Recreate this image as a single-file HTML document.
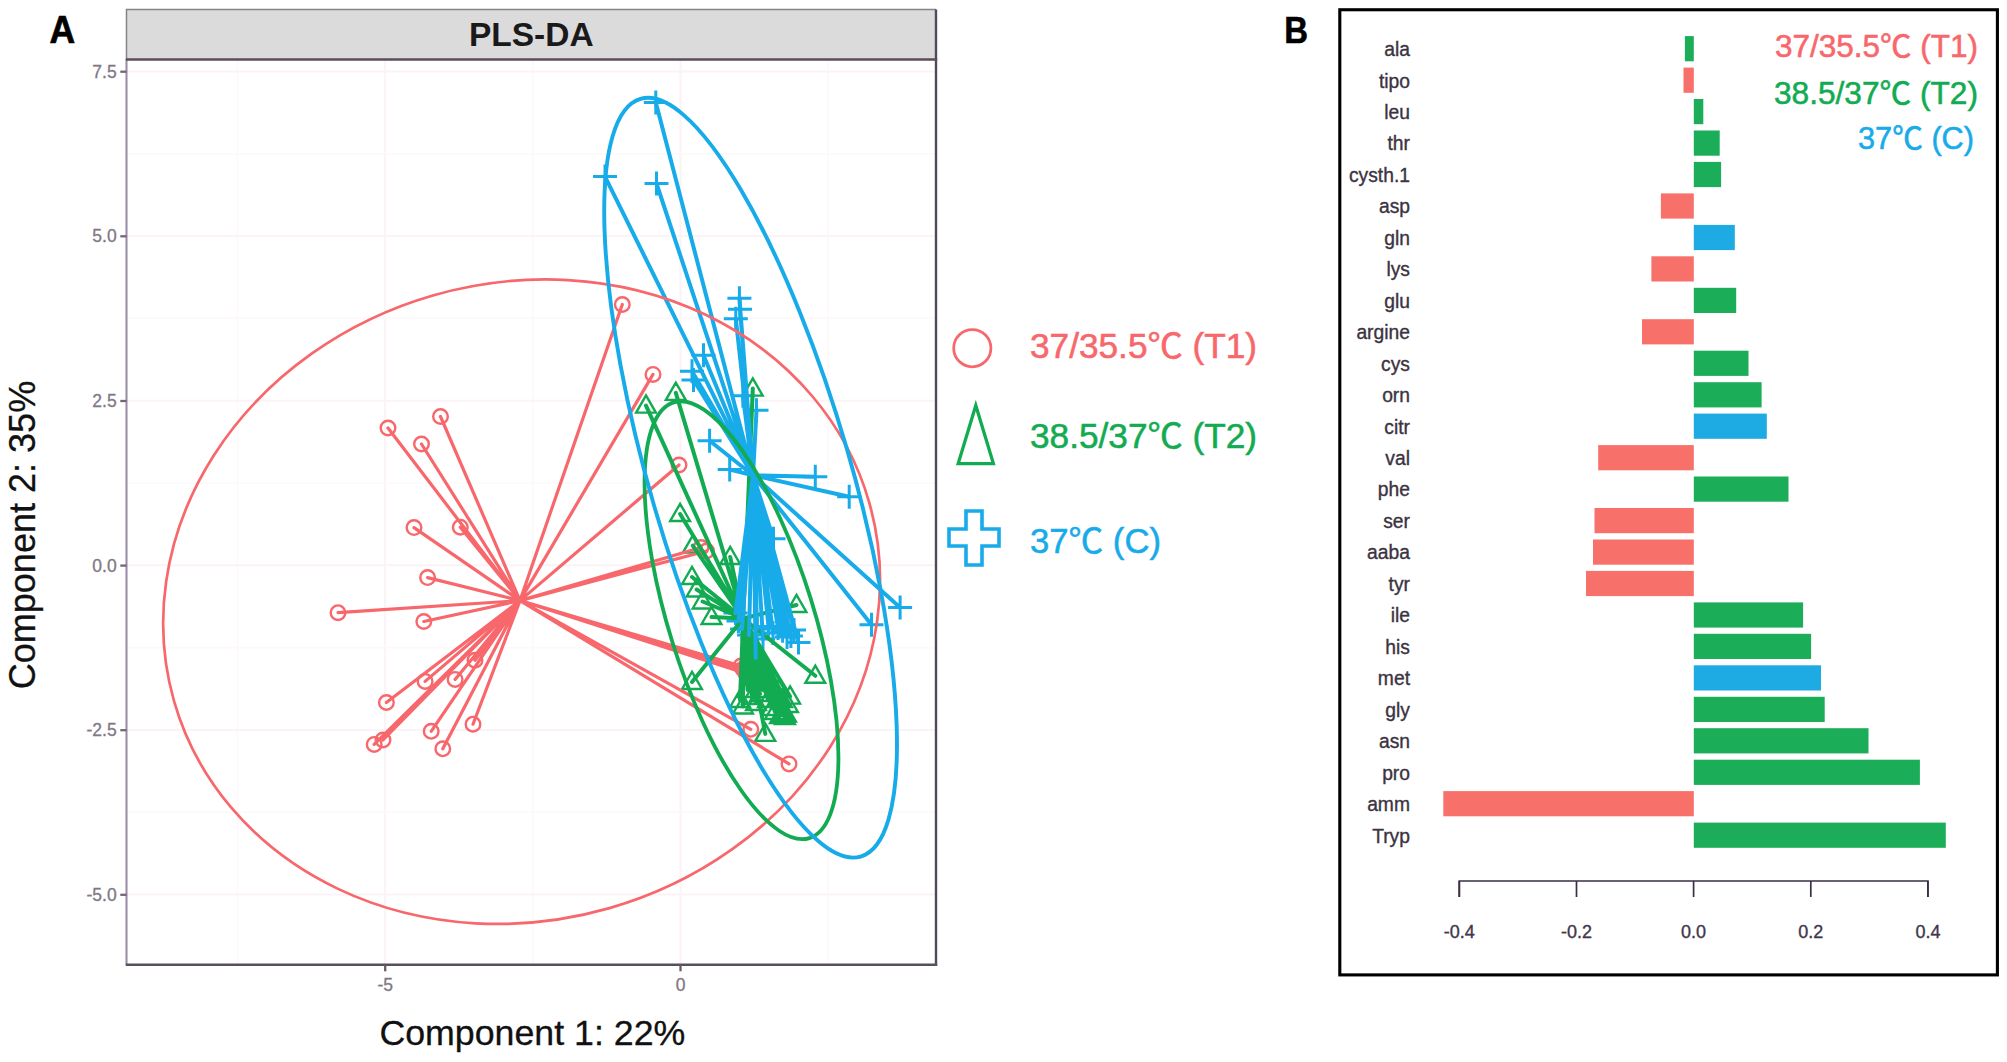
<!DOCTYPE html>
<html lang="en"><head><meta charset="utf-8"><title>PLS-DA figure</title>
<style>
html,body{margin:0;padding:0;background:#fff;}
body{width:2007px;height:1062px;overflow:hidden;}
svg{display:block;font-family:"Liberation Sans","Noto Sans CJK SC",sans-serif;}
</style></head><body>
<svg width="2007" height="1062" viewBox="0 0 2007 1062">
<defs><clipPath id="clipA"><rect x="126.5" y="59.5" width="809.5" height="905.3"/></clipPath></defs>
<rect width="2007" height="1062" fill="#fff"/>
<rect x="126.5" y="9.5" width="809.5" height="50.0" fill="#dcdbdc"/>
<path d="M126.5 59.5V9.5H936" fill="none" stroke="#85828a" stroke-width="1.5"/>
<text x="531.25" y="46" text-anchor="middle" font-size="33.5" font-weight="bold" fill="#1a1a1a">PLS-DA</text>
<rect x="126.5" y="59.5" width="809.5" height="905.3" fill="#fff"/>
<line x1="237.6" x2="237.6" y1="59.5" y2="964.8" stroke="#fdf8fa" stroke-width="1.6"/>
<line x1="532.9" x2="532.9" y1="59.5" y2="964.8" stroke="#fdf8fa" stroke-width="1.6"/>
<line x1="828.1" x2="828.1" y1="59.5" y2="964.8" stroke="#fdf8fa" stroke-width="1.6"/>
<line x1="385.2" x2="385.2" y1="59.5" y2="964.8" stroke="#fcf3f6" stroke-width="2"/>
<line x1="680.5" x2="680.5" y1="59.5" y2="964.8" stroke="#fcf3f6" stroke-width="2"/>
<line y1="153.7" y2="153.7" x1="126.5" x2="936" stroke="#fdf8fa" stroke-width="1.6"/>
<line y1="318.4" y2="318.4" x1="126.5" x2="936" stroke="#fdf8fa" stroke-width="1.6"/>
<line y1="483.0" y2="483.0" x1="126.5" x2="936" stroke="#fdf8fa" stroke-width="1.6"/>
<line y1="647.6" y2="647.6" x1="126.5" x2="936" stroke="#fdf8fa" stroke-width="1.6"/>
<line y1="812.2" y2="812.2" x1="126.5" x2="936" stroke="#fdf8fa" stroke-width="1.6"/>
<line y1="71.4" y2="71.4" x1="126.5" x2="936" stroke="#fcf3f6" stroke-width="2"/>
<line y1="236.0" y2="236.0" x1="126.5" x2="936" stroke="#fcf3f6" stroke-width="2"/>
<line y1="400.7" y2="400.7" x1="126.5" x2="936" stroke="#fcf3f6" stroke-width="2"/>
<line y1="565.3" y2="565.3" x1="126.5" x2="936" stroke="#fcf3f6" stroke-width="2"/>
<line y1="729.9" y2="729.9" x1="126.5" x2="936" stroke="#fcf3f6" stroke-width="2"/>
<line y1="894.5" y2="894.5" x1="126.5" x2="936" stroke="#fcf3f6" stroke-width="2"/>
<g clip-path="url(#clipA)">
<circle cx="338" cy="612.7" r="7.3" fill="none" stroke="#f7676b" stroke-width="2.4"/>
<circle cx="388" cy="428" r="7.3" fill="none" stroke="#f7676b" stroke-width="2.4"/>
<circle cx="421.5" cy="444" r="7.3" fill="none" stroke="#f7676b" stroke-width="2.4"/>
<circle cx="440.5" cy="416.5" r="7.3" fill="none" stroke="#f7676b" stroke-width="2.4"/>
<circle cx="414" cy="527.6" r="7.3" fill="none" stroke="#f7676b" stroke-width="2.4"/>
<circle cx="460.3" cy="527.2" r="7.3" fill="none" stroke="#f7676b" stroke-width="2.4"/>
<circle cx="427.6" cy="577.6" r="7.3" fill="none" stroke="#f7676b" stroke-width="2.4"/>
<circle cx="423.8" cy="621.5" r="7.3" fill="none" stroke="#f7676b" stroke-width="2.4"/>
<circle cx="386.4" cy="702.5" r="7.3" fill="none" stroke="#f7676b" stroke-width="2.4"/>
<circle cx="425.1" cy="681.4" r="7.3" fill="none" stroke="#f7676b" stroke-width="2.4"/>
<circle cx="455.1" cy="679.4" r="7.3" fill="none" stroke="#f7676b" stroke-width="2.4"/>
<circle cx="475" cy="660.3" r="7.3" fill="none" stroke="#f7676b" stroke-width="2.4"/>
<circle cx="374.2" cy="744.4" r="7.3" fill="none" stroke="#f7676b" stroke-width="2.4"/>
<circle cx="383" cy="740" r="7.3" fill="none" stroke="#f7676b" stroke-width="2.4"/>
<circle cx="431.2" cy="731.3" r="7.3" fill="none" stroke="#f7676b" stroke-width="2.4"/>
<circle cx="442.8" cy="748.8" r="7.3" fill="none" stroke="#f7676b" stroke-width="2.4"/>
<circle cx="473" cy="724.2" r="7.3" fill="none" stroke="#f7676b" stroke-width="2.4"/>
<circle cx="622.3" cy="304.5" r="7.3" fill="none" stroke="#f7676b" stroke-width="2.4"/>
<circle cx="653" cy="374.4" r="7.3" fill="none" stroke="#f7676b" stroke-width="2.4"/>
<circle cx="679" cy="465" r="7.3" fill="none" stroke="#f7676b" stroke-width="2.4"/>
<circle cx="706.5" cy="551" r="7.3" fill="none" stroke="#f7676b" stroke-width="2.4"/>
<circle cx="701" cy="547.5" r="7.3" fill="none" stroke="#f7676b" stroke-width="2.4"/>
<circle cx="750.8" cy="729.3" r="7.3" fill="none" stroke="#f7676b" stroke-width="2.4"/>
<circle cx="789" cy="763.9" r="7.3" fill="none" stroke="#f7676b" stroke-width="2.4"/>
<circle cx="743" cy="669" r="7.3" fill="none" stroke="#f7676b" stroke-width="2.4"/>
<circle cx="746" cy="673.5" r="7.3" fill="none" stroke="#f7676b" stroke-width="2.4"/>
<circle cx="741" cy="666" r="7.3" fill="none" stroke="#f7676b" stroke-width="2.4"/>
<path d="M675.8 382.7L685.6999999999999 399.9L665.9 399.9ZM646 395.40000000000003L655.9 412.6L636.1 412.6ZM752.8 378.40000000000003L762.6999999999999 395.6L742.9 395.6ZM680.1 503.8L690.0 521.0L670.2 521.0ZM692.8 535.4L702.6999999999999 552.6L682.9 552.6ZM692 566.8L701.9 584.0L682.1 584.0ZM696.6 579.3L706.5 596.5L686.7 596.5ZM702.6 591.3L712.5 608.5L692.7 608.5ZM711.5 606.8L721.4 624.0L701.6 624.0ZM730.2 546.8L740.1 564.0L720.3000000000001 564.0ZM796.5 594.8L806.4 612.0L786.6 612.0ZM815.3 665.5999999999999L825.1999999999999 682.8L805.4 682.8ZM692 671.8L701.9 689.0L682.1 689.0ZM740 689.8L749.9 707.0L730.1 707.0ZM743 696.3L752.9 713.5L733.1 713.5ZM747.6 679.8L757.5 697.0L737.7 697.0ZM752 686.8L761.9 704.0L742.1 704.0ZM756 692.8L765.9 710.0L746.1 710.0ZM760 683.8L769.9 701.0L750.1 701.0ZM763.2 679.8L773.1 697.0L753.3000000000001 697.0ZM765.3 723.6999999999999L775.1999999999999 740.9L755.4 740.9ZM768 689.8L777.9 707.0L758.1 707.0ZM772 697.8L781.9 715.0L762.1 715.0ZM775 701.8L784.9 719.0L765.1 719.0ZM778.7 679.8L788.6 697.0L768.8000000000001 697.0ZM780 705.8L789.9 723.0L770.1 723.0ZM782 704.8L791.9 722.0L772.1 722.0ZM783.9 705.0999999999999L793.8 722.3L774.0 722.3ZM786 704.3L795.9 721.5L776.1 721.5ZM785 706.8L794.9 724.0L775.1 724.0ZM788 694.8L797.9 712.0L778.1 712.0ZM790.1 686.4L800.0 703.6L780.2 703.6ZM782 689.8L791.9 707.0L772.1 707.0Z" fill="none" stroke="#13ab52" stroke-width="2.4" stroke-linejoin="miter"/>
<path d="M643.8 102.4H667.8M655.8 90.4V114.4M593 176.6H617M605 164.6V188.6M644.5 183.5H668.5M656.5 171.5V195.5M727.4 298.2H751.4M739.4 286.2V310.2M728 309.3H752M740 297.3V321.3M723.8 318.7H747.8M735.8 306.7V330.7M691.5 355.2H715.5M703.5 343.2V367.2M680 371.3H704M692 359.3V383.3M681.5 380H705.5M693.5 368V392M730.9 395.7H754.9M742.9 383.7V407.7M744.5 410.3H768.5M756.5 398.3V422.3M697.6 440.8H721.6M709.6 428.8V452.8M717.7 469.6H741.7M729.7 457.6V481.6M803.3 476.8H827.3M815.3 464.8V488.8M837.2 496.8H861.2M849.2 484.8V508.8M761.5 538.8H785.5M773.5 526.8V550.8M888.1 607.4H912.1M900.1 595.4V619.4M859.5 624.7H883.5M871.5 612.7V636.7M743.7 657.8H767.7M755.7 645.8V669.8M723.5 613H747.5M735.5 601V625M726.5 621H750.5M738.5 609V633M730 629H754M742 617V641M737 635H761M749 623V647M745 629H769M757 617V641M751 639H775M763 627V651M756.5 626.5H780.5M768.5 614.5V638.5M761 633H785M773 621V645M766 628H790M778 616V640M770.6 630.7H794.6M782.6 618.7V642.7M775 637H799M787 625V649M778.9 636H802.9M790.9 624V648M782 630H806M794 618V642M786.5 642.5H810.5M798.5 630.5V654.5" stroke="#17abea" stroke-width="3.0" fill="none"/>
<path d="M520 600.6L338 612.7M520 600.6L388 428M520 600.6L421.5 444M520 600.6L440.5 416.5M520 600.6L414 527.6M520 600.6L460.3 527.2M520 600.6L427.6 577.6M520 600.6L423.8 621.5M520 600.6L386.4 702.5M520 600.6L425.1 681.4M520 600.6L455.1 679.4M520 600.6L475 660.3M520 600.6L374.2 744.4M520 600.6L383 740M520 600.6L431.2 731.3M520 600.6L442.8 748.8M520 600.6L473 724.2M520 600.6L622.3 304.5M520 600.6L653 374.4M520 600.6L679 465M520 600.6L706.5 551M520 600.6L701 547.5M520 600.6L750.8 729.3M520 600.6L789 763.9M520 600.6L743 669M520 600.6L746 673.5M520 600.6L741 666" stroke="#f7676b" stroke-width="3.2" fill="none" stroke-linecap="round"/>
<path d="M743.2 618.5L675.8 392.9M743.2 618.5L646 405.6M743.2 618.5L752.8 388.6M743.2 618.5L680.1 514M743.2 618.5L692.8 545.6M743.2 618.5L692 577M743.2 618.5L696.6 589.5M743.2 618.5L702.6 601.5M743.2 618.5L711.5 617M743.2 618.5L730.2 557M743.2 618.5L796.5 605M743.2 618.5L815.3 675.8M743.2 618.5L692 682M743.2 618.5L740 700M743.2 618.5L743 706.5M743.2 618.5L747.6 690M743.2 618.5L752 697M743.2 618.5L756 703M743.2 618.5L760 694M743.2 618.5L763.2 690M743.2 618.5L765.3 733.9M743.2 618.5L768 700M743.2 618.5L772 708M743.2 618.5L775 712M743.2 618.5L778.7 690M743.2 618.5L780 716M743.2 618.5L782 715M743.2 618.5L783.9 715.3M743.2 618.5L786 714.5M743.2 618.5L785 717M743.2 618.5L788 705M743.2 618.5L790.1 696.6M743.2 618.5L782 700" stroke="#13ab52" stroke-width="4.0" fill="none" stroke-linecap="round"/>
<path d="M753 475.2L655.8 102.4M753 475.2L605 176.6M753 475.2L656.5 183.5M753 475.2L739.4 298.2M753 475.2L740 309.3M753 475.2L735.8 318.7M753 475.2L703.5 355.2M753 475.2L692 371.3M753 475.2L693.5 380M753 475.2L742.9 395.7M753 475.2L756.5 410.3M753 475.2L709.6 440.8M753 475.2L729.7 469.6M753 475.2L815.3 476.8M753 475.2L849.2 496.8M753 475.2L773.5 538.8M753 475.2L900.1 607.4M753 475.2L871.5 624.7M753 475.2L755.7 657.8M753 475.2L735.5 613M753 475.2L738.5 621M753 475.2L742 629M753 475.2L749 635M753 475.2L757 629M753 475.2L763 639M753 475.2L768.5 626.5M753 475.2L773 633M753 475.2L778 628M753 475.2L782.6 630.7M753 475.2L787 637M753 475.2L790.9 636M753 475.2L794 630M753 475.2L798.5 642.5" stroke="#17abea" stroke-width="4.0" fill="none" stroke-linecap="round"/>
<ellipse cx="521.6" cy="601.7" rx="361.5" ry="318.8" transform="rotate(-16.0 521.6 601.7)" fill="none" stroke="#f7676b" stroke-width="2.7"/>
<ellipse cx="741.5" cy="620.2" rx="228.2" ry="72.5" transform="rotate(72.7 741.5 620.2)" fill="none" stroke="#13ab52" stroke-width="3.8"/>
<ellipse cx="750.6" cy="477.7" rx="394.5" ry="100.5" transform="rotate(73.8 750.6 477.7)" fill="none" stroke="#17abea" stroke-width="3.9"/>
</g>
<line x1="126.5" x2="126.5" y1="59.5" y2="964.8" stroke="#9a8fa6" stroke-width="2.1"/>
<line x1="936" x2="936" y1="9.5" y2="965.8" stroke="#524a5a" stroke-width="2.4"/>
<line x1="125.8" x2="937.2" y1="59.5" y2="59.5" stroke="#5c4b58" stroke-width="2.6"/>
<line x1="125.8" x2="937.2" y1="964.8" y2="964.8" stroke="#57505c" stroke-width="2.6"/>
<line x1="120.3" x2="126.5" y1="71.7" y2="71.7" stroke="#75647a" stroke-width="2.3"/>
<text x="116.7" y="77.8" text-anchor="end" font-size="17.5" fill="#807885" stroke="#807885" stroke-width="0.3">7.5</text>
<line x1="120.3" x2="126.5" y1="236.3" y2="236.3" stroke="#75647a" stroke-width="2.3"/>
<text x="116.7" y="242.4" text-anchor="end" font-size="17.5" fill="#807885" stroke="#807885" stroke-width="0.3">5.0</text>
<line x1="120.3" x2="126.5" y1="401.0" y2="401.0" stroke="#75647a" stroke-width="2.3"/>
<text x="116.7" y="407.1" text-anchor="end" font-size="17.5" fill="#807885" stroke="#807885" stroke-width="0.3">2.5</text>
<line x1="120.3" x2="126.5" y1="565.6" y2="565.6" stroke="#75647a" stroke-width="2.3"/>
<text x="116.7" y="571.7" text-anchor="end" font-size="17.5" fill="#807885" stroke="#807885" stroke-width="0.3">0.0</text>
<line x1="120.3" x2="126.5" y1="730.2" y2="730.2" stroke="#75647a" stroke-width="2.3"/>
<text x="116.7" y="736.3" text-anchor="end" font-size="17.5" fill="#807885" stroke="#807885" stroke-width="0.3">-2.5</text>
<line x1="120.3" x2="126.5" y1="894.8" y2="894.8" stroke="#75647a" stroke-width="2.3"/>
<text x="116.7" y="900.9" text-anchor="end" font-size="17.5" fill="#807885" stroke="#807885" stroke-width="0.3">-5.0</text>
<line y1="964.8" y2="971.3" x1="385.2" x2="385.2" stroke="#6b5866" stroke-width="2.3"/>
<text x="385.2" y="991" text-anchor="middle" font-size="17.5" fill="#807885" stroke="#807885" stroke-width="0.3">-5</text>
<line y1="964.8" y2="971.3" x1="680.5" x2="680.5" stroke="#6b5866" stroke-width="2.3"/>
<text x="680.5" y="991" text-anchor="middle" font-size="17.5" fill="#807885" stroke="#807885" stroke-width="0.3">0</text>
<text x="379.4" y="1044.8" font-size="35.6" fill="#111" stroke="#111" stroke-width="0.3" textLength="306" lengthAdjust="spacingAndGlyphs">Component 1: 22%</text>
<text transform="translate(35.4 689.3) rotate(-90)" font-size="37.8" fill="#111" stroke="#111" stroke-width="0.3" textLength="308.5" lengthAdjust="spacingAndGlyphs">Component 2: 35%</text>
<text x="49.6" y="42.9" font-size="38.2" font-weight="bold" fill="#000" stroke="#000" stroke-width="0.7" textLength="25.6" lengthAdjust="spacingAndGlyphs">A</text>
<circle cx="972.3" cy="348.2" r="18.6" fill="none" stroke="#f7676b" stroke-width="2.8"/>
<path d="M975.8 405.5L993.4 463.6L958.2 463.6Z" fill="none" stroke="#13ab52" stroke-width="3.3"/>
<path d="M966 511H982V529H999V546H982V565H966V546H949V529H966Z" fill="none" stroke="#17abea" stroke-width="3.6"/>
<text x="1030" y="358" font-size="34.2" fill="#f7676b" textLength="227" lengthAdjust="spacingAndGlyphs" text-anchor="start" stroke="#f7676b" stroke-width="0.55">37/35.5℃ (T1)</text>
<text x="1030" y="448" font-size="34.2" fill="#13ab52" textLength="227" lengthAdjust="spacingAndGlyphs" text-anchor="start" stroke="#13ab52" stroke-width="0.55">38.5/37℃ (T2)</text>
<text x="1030" y="553" font-size="34.2" fill="#17abea" textLength="131" lengthAdjust="spacingAndGlyphs" text-anchor="start" stroke="#17abea" stroke-width="0.55">37℃ (C)</text>
<rect x="1339.8" y="9.75" width="657.6" height="965.15" fill="#fff" stroke="#000" stroke-width="3.1"/>
<text x="1284.2" y="42.6" font-size="37.4" font-weight="bold" fill="#000" stroke="#000" stroke-width="0.6" textLength="23.8" lengthAdjust="spacingAndGlyphs">B</text>
<rect x="1684.9" y="36.1" width="8.9" height="25.2" fill="#1bad57"/>
<text x="1410" y="56.0" text-anchor="end" font-size="19.3" fill="#3b3341" stroke="#3b3341" stroke-width="0.35">ala</text>
<rect x="1683.5" y="67.6" width="10.3" height="25.2" fill="#f8706a"/>
<text x="1410" y="87.5" text-anchor="end" font-size="19.3" fill="#3b3341" stroke="#3b3341" stroke-width="0.35">tipo</text>
<rect x="1693.8" y="99.0" width="9.5" height="25.2" fill="#1bad57"/>
<text x="1410" y="118.9" text-anchor="end" font-size="19.3" fill="#3b3341" stroke="#3b3341" stroke-width="0.35">leu</text>
<rect x="1693.8" y="130.5" width="25.9" height="25.2" fill="#1bad57"/>
<text x="1410" y="150.4" text-anchor="end" font-size="19.3" fill="#3b3341" stroke="#3b3341" stroke-width="0.35">thr</text>
<rect x="1693.8" y="161.9" width="27.3" height="25.2" fill="#1bad57"/>
<text x="1410" y="181.8" text-anchor="end" font-size="19.3" fill="#3b3341" stroke="#3b3341" stroke-width="0.35">cysth.1</text>
<rect x="1660.9" y="193.4" width="32.9" height="25.2" fill="#f8706a"/>
<text x="1410" y="213.3" text-anchor="end" font-size="19.3" fill="#3b3341" stroke="#3b3341" stroke-width="0.35">asp</text>
<rect x="1693.8" y="224.9" width="41.0" height="25.2" fill="#1eaae2"/>
<text x="1410" y="244.8" text-anchor="end" font-size="19.3" fill="#3b3341" stroke="#3b3341" stroke-width="0.35">gln</text>
<rect x="1651.4" y="256.3" width="42.4" height="25.2" fill="#f8706a"/>
<text x="1410" y="276.2" text-anchor="end" font-size="19.3" fill="#3b3341" stroke="#3b3341" stroke-width="0.35">lys</text>
<rect x="1693.8" y="287.8" width="42.4" height="25.2" fill="#1bad57"/>
<text x="1410" y="307.7" text-anchor="end" font-size="19.3" fill="#3b3341" stroke="#3b3341" stroke-width="0.35">glu</text>
<rect x="1642.0" y="319.2" width="51.8" height="25.2" fill="#f8706a"/>
<text x="1410" y="339.1" text-anchor="end" font-size="19.3" fill="#3b3341" stroke="#3b3341" stroke-width="0.35">argine</text>
<rect x="1693.8" y="350.7" width="54.7" height="25.2" fill="#1bad57"/>
<text x="1410" y="370.6" text-anchor="end" font-size="19.3" fill="#3b3341" stroke="#3b3341" stroke-width="0.35">cys</text>
<rect x="1693.8" y="382.2" width="67.8" height="25.2" fill="#1bad57"/>
<text x="1410" y="402.1" text-anchor="end" font-size="19.3" fill="#3b3341" stroke="#3b3341" stroke-width="0.35">orn</text>
<rect x="1693.8" y="413.6" width="73.0" height="25.2" fill="#1eaae2"/>
<text x="1410" y="433.5" text-anchor="end" font-size="19.3" fill="#3b3341" stroke="#3b3341" stroke-width="0.35">citr</text>
<rect x="1598.2" y="445.1" width="95.6" height="25.2" fill="#f8706a"/>
<text x="1410" y="465.0" text-anchor="end" font-size="19.3" fill="#3b3341" stroke="#3b3341" stroke-width="0.35">val</text>
<rect x="1693.8" y="476.5" width="94.7" height="25.2" fill="#1bad57"/>
<text x="1410" y="496.4" text-anchor="end" font-size="19.3" fill="#3b3341" stroke="#3b3341" stroke-width="0.35">phe</text>
<rect x="1594.5" y="508.0" width="99.3" height="25.2" fill="#f8706a"/>
<text x="1410" y="527.9" text-anchor="end" font-size="19.3" fill="#3b3341" stroke="#3b3341" stroke-width="0.35">ser</text>
<rect x="1593.0" y="539.5" width="100.8" height="25.2" fill="#f8706a"/>
<text x="1410" y="559.4" text-anchor="end" font-size="19.3" fill="#3b3341" stroke="#3b3341" stroke-width="0.35">aaba</text>
<rect x="1586.0" y="570.9" width="107.8" height="25.2" fill="#f8706a"/>
<text x="1410" y="590.8" text-anchor="end" font-size="19.3" fill="#3b3341" stroke="#3b3341" stroke-width="0.35">tyr</text>
<rect x="1693.8" y="602.4" width="109.3" height="25.2" fill="#1bad57"/>
<text x="1410" y="622.3" text-anchor="end" font-size="19.3" fill="#3b3341" stroke="#3b3341" stroke-width="0.35">ile</text>
<rect x="1693.8" y="633.8" width="117.3" height="25.2" fill="#1bad57"/>
<text x="1410" y="653.7" text-anchor="end" font-size="19.3" fill="#3b3341" stroke="#3b3341" stroke-width="0.35">his</text>
<rect x="1693.8" y="665.3" width="127.2" height="25.2" fill="#1eaae2"/>
<text x="1410" y="685.2" text-anchor="end" font-size="19.3" fill="#3b3341" stroke="#3b3341" stroke-width="0.35">met</text>
<rect x="1693.8" y="696.8" width="130.9" height="25.2" fill="#1bad57"/>
<text x="1410" y="716.7" text-anchor="end" font-size="19.3" fill="#3b3341" stroke="#3b3341" stroke-width="0.35">gly</text>
<rect x="1693.8" y="728.2" width="174.7" height="25.2" fill="#1bad57"/>
<text x="1410" y="748.1" text-anchor="end" font-size="19.3" fill="#3b3341" stroke="#3b3341" stroke-width="0.35">asn</text>
<rect x="1693.8" y="759.7" width="226.1" height="25.2" fill="#1bad57"/>
<text x="1410" y="779.6" text-anchor="end" font-size="19.3" fill="#3b3341" stroke="#3b3341" stroke-width="0.35">pro</text>
<rect x="1443.3" y="791.1" width="250.5" height="25.2" fill="#f8706a"/>
<text x="1410" y="811.0" text-anchor="end" font-size="19.3" fill="#3b3341" stroke="#3b3341" stroke-width="0.35">amm</text>
<rect x="1693.8" y="822.6" width="252.0" height="25.2" fill="#1bad57"/>
<text x="1410" y="842.5" text-anchor="end" font-size="19.3" fill="#3b3341" stroke="#3b3341" stroke-width="0.35">Tryp</text>
<path d="M1459.3 897V881H1927.9V897" fill="none" stroke="#3a2f45" stroke-width="1.7"/>
<line x1="1459.3" x2="1459.3" y1="881" y2="897" stroke="#3a2f45" stroke-width="1.7"/>
<text x="1459.3" y="938.3" text-anchor="middle" font-size="18" fill="#41364a" stroke="#41364a" stroke-width="0.35">-0.4</text>
<line x1="1576.5" x2="1576.5" y1="881" y2="897" stroke="#3a2f45" stroke-width="1.7"/>
<text x="1576.5" y="938.3" text-anchor="middle" font-size="18" fill="#41364a" stroke="#41364a" stroke-width="0.35">-0.2</text>
<line x1="1693.6" x2="1693.6" y1="881" y2="897" stroke="#3a2f45" stroke-width="1.7"/>
<text x="1693.6" y="938.3" text-anchor="middle" font-size="18" fill="#41364a" stroke="#41364a" stroke-width="0.35">0.0</text>
<line x1="1810.8" x2="1810.8" y1="881" y2="897" stroke="#3a2f45" stroke-width="1.7"/>
<text x="1810.8" y="938.3" text-anchor="middle" font-size="18" fill="#41364a" stroke="#41364a" stroke-width="0.35">0.2</text>
<line x1="1927.9" x2="1927.9" y1="881" y2="897" stroke="#3a2f45" stroke-width="1.7"/>
<text x="1927.9" y="938.3" text-anchor="middle" font-size="18" fill="#41364a" stroke="#41364a" stroke-width="0.35">0.4</text>
<text x="1978" y="56.7" font-size="31.2" fill="#f7676b" textLength="203" lengthAdjust="spacingAndGlyphs" text-anchor="end" stroke="#f7676b" stroke-width="0.55">37/35.5℃ (T1)</text>
<text x="1978" y="103.6" font-size="31.2" fill="#13ab52" textLength="204" lengthAdjust="spacingAndGlyphs" text-anchor="end" stroke="#13ab52" stroke-width="0.55">38.5/37℃ (T2)</text>
<text x="1974" y="149" font-size="31.2" fill="#17abea" textLength="116" lengthAdjust="spacingAndGlyphs" text-anchor="end" stroke="#17abea" stroke-width="0.55">37℃ (C)</text>
</svg>
</body></html>
